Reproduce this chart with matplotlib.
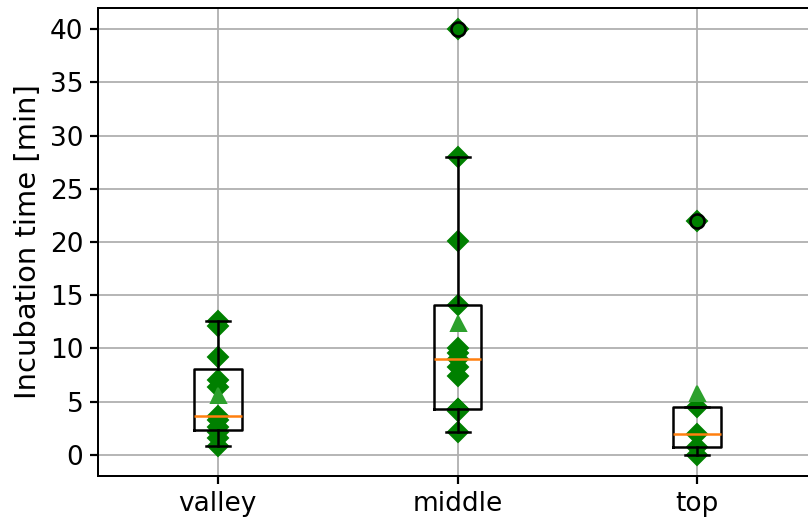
import numpy as np
import matplotlib
matplotlib.use("Agg")
import matplotlib.pyplot as plt

# incubation times per site [min]
sites = ["valley", "middle", "top"]
valley = [0.8, 1.6, 2.1, 2.6, 3.3, 3.6, 6.4, 7.0, 9.2, 12.1, 12.6]
middle = [2.1, 4.1, 4.3, 4.3, 7.4, 8.2, 9.0, 9.6, 10.0, 14.1, 20.1, 28.0, 40.0]
top = [0.0, 0.7, 1.9, 4.45, 22.0]
groups = [valley, middle, top]

DPI = 144
fig = plt.figure(figsize=(808 / DPI, 519 / DPI), dpi=DPI)
ax = fig.add_axes([0.1213, 0.0829, 0.8899, 0.9017])

# individual measurements
for i, g in enumerate(groups, start=1):
    ax.plot(np.full(len(g), i), g, 'D', color='green', markersize=7)

lw = 1.25
ax.boxplot(groups, widths=0.2, showmeans=True,
           boxprops=dict(linewidth=lw),
           whiskerprops=dict(linewidth=lw),
           capprops=dict(linewidth=lw),
           medianprops=dict(linewidth=lw, color='C1'),
           meanprops=dict(marker='^', markersize=7.5,
                          markerfacecolor='C2', markeredgecolor='C2'),
           flierprops=dict(marker='o', markersize=7, markeredgewidth=1.3))

ax.set_xticks([1, 2, 3])
ax.set_xticklabels(sites)
ax.set_yticks(np.arange(0, 41, 5))
ax.tick_params(labelsize=13.2, width=1.1, length=3.8)
ax.set_ylabel("Incubation time [min]", fontsize=14.5)
ax.grid(True, linewidth=0.9)
for sp in ax.spines.values():
    sp.set_linewidth(1.0)

fig.savefig("out.png", dpi=DPI)
